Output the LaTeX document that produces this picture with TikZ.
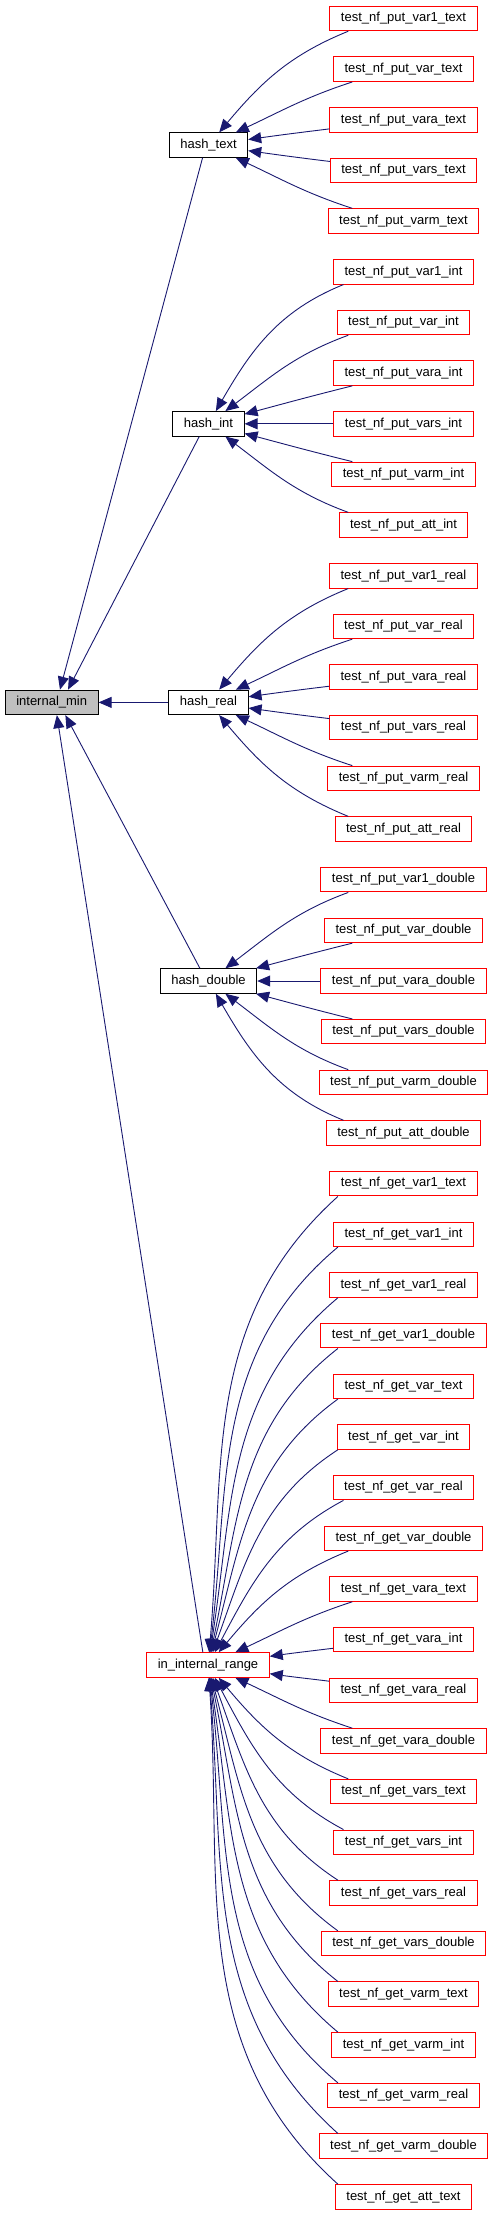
\documentclass[tikz,border=0pt]{standalone}
\usepackage{fontspec}
\setmainfont{Liberation Sans}
\usetikzlibrary{arrows.meta}
\definecolor{edgeblue}{HTML}{191970}
\definecolor{boxred}{HTML}{FF0000}
\definecolor{rootgray}{HTML}{BFBFBF}
\tikzset{
  fn/.style={draw=boxred, fill=white, line width=1pt, minimum height=24.5pt,
    inner xsep=11pt, inner ysep=0pt, font=\fontsize{13}{15}\selectfont,
    text height=9.4pt, text depth=3pt},
  hashfn/.style={fn, draw=black},
  rootfn/.style={fn, draw=black, fill=rootgray},
  calls/.style={draw=edgeblue, line width=0.9pt, -{Triangle[length=13pt,width=11pt]}},
}
\begin{document}
\begin{tikzpicture}[x=1pt,y=1pt]
\useasboundingbox (0,0) rectangle (495,-2216);
% left nodes
\node[rootfn] (im) at (51.7,-702.4) {internal\_min};
\node[hashfn] (ht) at (208.5,-145.1) {hash\_text};
\node[hashfn] (hi) at (208.5,-423.8) {hash\_int};
\node[hashfn] (hr) at (208.5,-702.4) {hash\_real};
\node[hashfn] (hd) at (208.5,-981.0) {hash\_double};
\node[fn] (ir) at (208,-1665.0) {in\_internal\_range};
% right column
\node[fn] (p0)  at (403.5,-18.5)  {test\_nf\_put\_var1\_text};
\node[fn] (p1)  at (403.5,-69.2)  {test\_nf\_put\_var\_text};
\node[fn] (p2)  at (403.5,-119.8) {test\_nf\_put\_vara\_text};
\node[fn] (p3)  at (403.5,-170.5) {test\_nf\_put\_vars\_text};
\node[fn] (p4)  at (403.5,-221.1) {test\_nf\_put\_varm\_text};
\node[fn] (p5)  at (403.5,-271.8) {test\_nf\_put\_var1\_int};
\node[fn] (p6)  at (403.5,-322.5) {test\_nf\_put\_var\_int};
\node[fn] (p7)  at (403.5,-373.1) {test\_nf\_put\_vara\_int};
\node[fn] (p8)  at (403.5,-423.8) {test\_nf\_put\_vars\_int};
\node[fn] (p9)  at (403.5,-474.4) {test\_nf\_put\_varm\_int};
\node[fn] (p10) at (403.5,-525.1) {test\_nf\_put\_att\_int};
\node[fn] (p11) at (403.5,-575.8) {test\_nf\_put\_var1\_real};
\node[fn] (p12) at (403.5,-626.4) {test\_nf\_put\_var\_real};
\node[fn] (p13) at (403.5,-677.1) {test\_nf\_put\_vara\_real};
\node[fn] (p14) at (403.5,-727.7) {test\_nf\_put\_vars\_real};
\node[fn] (p15) at (403.5,-778.4) {test\_nf\_put\_varm\_real};
\node[fn] (p16) at (403.5,-829.1) {test\_nf\_put\_att\_real};
\node[fn] (p17) at (403.5,-879.7) {test\_nf\_put\_var1\_double};
\node[fn] (p18) at (403.5,-930.4) {test\_nf\_put\_var\_double};
\node[fn] (p19) at (403.5,-981.0) {test\_nf\_put\_vara\_double};
\node[fn] (p20) at (403.5,-1031.7) {test\_nf\_put\_vars\_double};
\node[fn] (p21) at (403.5,-1082.4) {test\_nf\_put\_varm\_double};
\node[fn] (p22) at (403.5,-1133.0) {test\_nf\_put\_att\_double};
\node[fn] (p23) at (403.5,-1183.7) {test\_nf\_get\_var1\_text};
\node[fn] (p24) at (403.5,-1234.3) {test\_nf\_get\_var1\_int};
\node[fn] (p25) at (403.5,-1285.0) {test\_nf\_get\_var1\_real};
\node[fn] (p26) at (403.5,-1335.7) {test\_nf\_get\_var1\_double};
\node[fn] (p27) at (403.5,-1386.3) {test\_nf\_get\_var\_text};
\node[fn] (p28) at (403.5,-1437.0) {test\_nf\_get\_var\_int};
\node[fn] (p29) at (403.5,-1487.6) {test\_nf\_get\_var\_real};
\node[fn] (p30) at (403.5,-1538.3) {test\_nf\_get\_var\_double};
\node[fn] (p31) at (403.5,-1589.0) {test\_nf\_get\_vara\_text};
\node[fn] (p32) at (403.5,-1639.6) {test\_nf\_get\_vara\_int};
\node[fn] (p33) at (403.5,-1690.3) {test\_nf\_get\_vara\_real};
\node[fn] (p34) at (403.5,-1740.9) {test\_nf\_get\_vara\_double};
\node[fn] (p35) at (403.5,-1791.6) {test\_nf\_get\_vars\_text};
\node[fn] (p36) at (403.5,-1842.3) {test\_nf\_get\_vars\_int};
\node[fn] (p37) at (403.5,-1892.9) {test\_nf\_get\_vars\_real};
\node[fn] (p38) at (403.5,-1943.6) {test\_nf\_get\_vars\_double};
\node[fn] (p39) at (403.5,-1994.2) {test\_nf\_get\_varm\_text};
\node[fn] (p40) at (403.5,-2044.9) {test\_nf\_get\_varm\_int};
\node[fn] (p41) at (403.5,-2095.6) {test\_nf\_get\_varm\_real};
\node[fn] (p42) at (403.5,-2146.2) {test\_nf\_get\_varm\_double};
\node[fn] (p43) at (403.5,-2196.9) {test\_nf\_get\_att\_text};
% edges to internal_min
\draw[calls] (ht.245) -- (im.57);
\draw[calls] (hi.234) -- (im.38);
\draw[calls] (hr.west) -- (im.east);
\draw[calls] (hd.124) -- (im.317);
\draw[calls] (ir.112) -- (im.292);
% hash_text
\draw[calls] (p0.193) to[out=202,in=50] (ht.50);
\draw[calls] (p1.194) to[out=198,in=25] (ht.25);
\draw[calls] (p2.187) to[out=187,in=8] (ht.8);
\draw[calls] (p3.173) to[out=173,in=352] (ht.352);
\draw[calls] (p4.166) to[out=162,in=335] (ht.335);
% hash_int
\draw[calls] (p5.192) to[out=202,in=60] (hi.60);
\draw[calls] (p6.193) to[out=200,in=37] (hi.37);
\draw[calls] (p7.194) to[out=194,in=15] (hi.15);
\draw[calls] (p8.west) -- (hi.east);
\draw[calls] (p9.166) to[out=166,in=345] (hi.345);
\draw[calls] (p10.167) to[out=160,in=323] (hi.323);
% hash_real
\draw[calls] (p11.193) to[out=202,in=50] (hr.50);
\draw[calls] (p12.194) to[out=198,in=25] (hr.25);
\draw[calls] (p13.187) to[out=187,in=8] (hr.8);
\draw[calls] (p14.173) to[out=173,in=352] (hr.352);
\draw[calls] (p15.166) to[out=162,in=335] (hr.335);
\draw[calls] (p16.167) to[out=158,in=310] (hr.310);
% hash_double
\draw[calls] (p17.193) to[out=200,in=37] (hd.37);
\draw[calls] (p18.194) to[out=194,in=15] (hd.15);
\draw[calls] (p19.west) -- (hd.east);
\draw[calls] (p20.166) to[out=166,in=345] (hd.345);
\draw[calls] (p21.167) to[out=160,in=323] (hd.323);
\draw[calls] (p22.168) to[out=158,in=300] (hd.300);
% in_internal_range
\draw[calls] (p23.191) to[out=222,in=85] (ir.85);
\draw[calls] (p24.191) to[out=220,in=83] (ir.83);
\draw[calls] (p25.191) to[out=220,in=81] (ir.81);
\draw[calls] (p26.191) to[out=218,in=78] (ir.78);
\draw[calls] (p27.191) to[out=216,in=75] (ir.75);
\draw[calls] (p28.191) to[out=213,in=70] (ir.70);
\draw[calls] (p29.192) to[out=208,in=62] (ir.62);
\draw[calls] (p30.193) to[out=202,in=50] (ir.50);
\draw[calls] (p31.194) to[out=198,in=25] (ir.25);
\draw[calls] (p32.187) to[out=187,in=8] (ir.8);
\draw[calls] (p33.173) to[out=173,in=352] (ir.352);
\draw[calls] (p34.166) to[out=162,in=335] (ir.335);
\draw[calls] (p35.167) to[out=158,in=310] (ir.310);
\draw[calls] (p36.168) to[out=152,in=298] (ir.298);
\draw[calls] (p37.169) to[out=147,in=290] (ir.290);
\draw[calls] (p38.169) to[out=144,in=285] (ir.285);
\draw[calls] (p39.169) to[out=142,in=282] (ir.282);
\draw[calls] (p40.169) to[out=140,in=279] (ir.279);
\draw[calls] (p41.169) to[out=140,in=277] (ir.277);
\draw[calls] (p42.169) to[out=138,in=275] (ir.275);
\draw[calls] (p43.169) to[out=138,in=274] (ir.274);
\end{tikzpicture}
\end{document}
